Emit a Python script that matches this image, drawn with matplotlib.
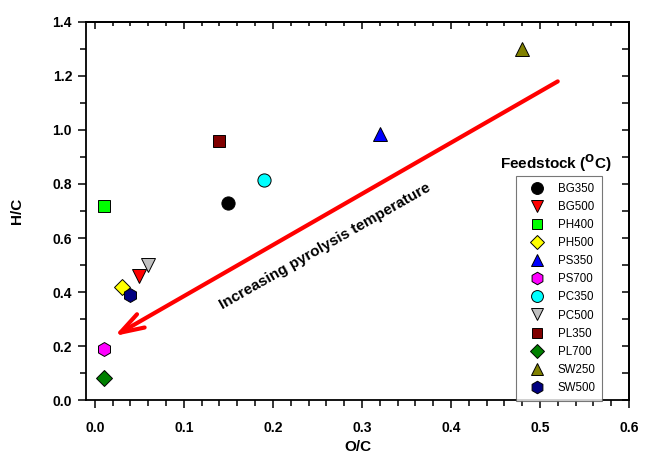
import matplotlib
matplotlib.use("Agg")
import matplotlib.pyplot as plt
from matplotlib.ticker import MultipleLocator
from matplotlib.lines import Line2D

plt.rcParams['font.family'] = ['Liberation Sans', 'DejaVu Sans']

# feedstock samples, O/C and H/C atomic ratios
labels = ["BG350", "BG500", "PH400", "PH500", "PS350", "PS700",
          "PC350", "PC500", "PL350", "PL700", "SW250", "SW500"]
oc = [0.15, 0.05, 0.01, 0.03, 0.32, 0.01, 0.19, 0.06, 0.14, 0.01, 0.48, 0.04]
hc = [0.73, 0.46, 0.72, 0.42, 0.985, 0.19, 0.815, 0.50, 0.96, 0.08, 1.30, 0.39]
markers = ["o", "v", "s", "D", "^", "h", "o", "v", "s", "D", "^", "h"]
colors = ["#000000", "#ff0000", "#00ff00", "#ffff00", "#0000ff", "#ff00ff",
          "#00ffff", "#c0c0c0", "#800000", "#008000", "#808000", "#000080"]

# arrow: tail and head in data units
arrow_tail = (0.52, 1.18)
arrow_head = (0.022, 0.237)

fig = plt.figure(figsize=(6.46, 4.61), dpi=100)
ax = fig.add_axes([0.1331, 0.1323, 0.8405, 0.820])

sizes = {"o": 9.5, "v": 9.5, "s": 8.5, "D": 8, "^": 9.5, "h": 10}
handles = []
for x, y, m, c, lab in zip(oc, hc, markers, colors, labels):
    ax.plot(x, y, marker=m, linestyle="none", markersize=sizes[m],
            markerfacecolor=c, markeredgecolor="black", markeredgewidth=0.7,
            zorder=3)
    handles.append(Line2D([], [], marker=m, linestyle="none",
                          markersize=sizes[m] * 0.9, markerfacecolor=c,
                          markeredgecolor="black", markeredgewidth=0.7,
                          label=lab))

ax.annotate("", xy=arrow_head, xytext=arrow_tail,
            arrowprops=dict(arrowstyle="->, head_length=1.7, head_width=0.55",
                            color="#ff0000", lw=3, shrinkA=0, shrinkB=0,
                            mutation_scale=10))
ax.text(0.259, 0.570, "Increasing pyrolysis temperature", rotation=29.7,
        rotation_mode="anchor", ha="center", va="center",
        fontsize=11, fontweight="bold")

ax.set_xlim(-0.01, 0.6)
ax.set_ylim(0, 1.4)
ax.xaxis.set_major_locator(MultipleLocator(0.1))
ax.xaxis.set_minor_locator(MultipleLocator(0.02))
ax.yaxis.set_major_locator(MultipleLocator(0.2))
ax.yaxis.set_minor_locator(MultipleLocator(0.1))
ax.xaxis.set_major_formatter(lambda v, p: f"{v:.1f}")
ax.yaxis.set_major_formatter(lambda v, p: f"{v:.1f}")

ax.tick_params(which="major", direction="out", length=6, width=1.1)
ax.tick_params(which="minor", direction="out", length=4, width=1.1)
ax.tick_params(axis="x", which="major", pad=9)
ax.tick_params(axis="y", which="major", pad=4)
for lab in ax.get_xticklabels() + ax.get_yticklabels():
    lab.set_fontweight("bold")
    lab.set_fontsize(10)
for sp in ax.spines.values():
    sp.set_linewidth(1.3)

# inward ticks on top and right
top = ax.secondary_xaxis("top")
top.xaxis.set_major_locator(MultipleLocator(0.1))
top.xaxis.set_minor_locator(MultipleLocator(0.02))
top.tick_params(which="major", direction="in", length=5, width=1.1, labeltop=False)
top.tick_params(which="minor", direction="in", length=3, width=1.1)
top.spines["top"].set_linewidth(1.3)
right = ax.secondary_yaxis("right")
right.yaxis.set_major_locator(MultipleLocator(0.2))
right.yaxis.set_minor_locator(MultipleLocator(0.1))
right.tick_params(which="major", direction="in", length=5, width=1.1, labelright=False)
right.tick_params(which="minor", direction="in", length=5, width=1.1)
right.spines["right"].set_linewidth(1.3)

ax.set_xlabel("O/C", fontsize=11, fontweight="bold", va="center")
ax.set_ylabel("H/C", fontsize=11, fontweight="bold", va="center")
ax.xaxis.set_label_coords(0.5, -0.124)
ax.yaxis.set_label_coords(-0.127, 0.5)

leg = ax.legend(handles=handles, loc="upper left",
                bbox_to_anchor=(0.792, 0.593), fontsize=8.3,
                frameon=True, fancybox=False, edgecolor="#555555",
                labelspacing=0.53, handletextpad=0.6, borderpad=0.6,
                handlelength=2.4, borderaxespad=0)
leg.get_frame().set_linewidth(0.8)
ax.text(0.866, 0.627, "Feedstock ($\\mathbf{^{O}}$C)", transform=ax.transAxes,
        ha="center", va="center", fontsize=11, fontweight="bold")

fig.savefig("out.png", dpi=100)
